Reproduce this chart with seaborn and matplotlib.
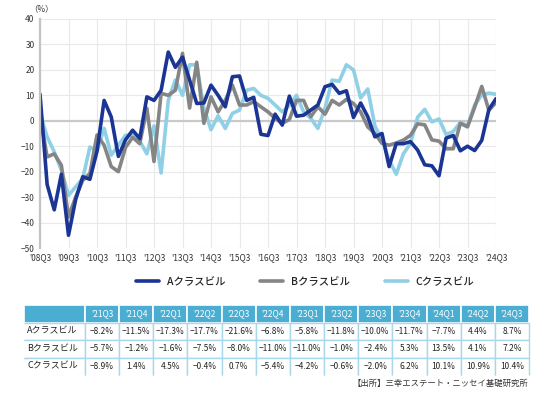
import numpy as np
import pandas as pd
import matplotlib
matplotlib.use("Agg")
import matplotlib.pyplot as plt
import seaborn as sns

# quarterly vacancy-adjusted rent change (%), '08Q3 .. '24Q3
a_class = [10.5, -25, -35, -21, -45, -31, -22, -23, -12, 8, 1.5, -14, -7.5, -3.7, -7, 9.4,
           8, 12, 27, 21, 25, 16, 6.8, 7, 14, 10, 5.5, 17.3, 17.6, 8, 9.2, -5.3,
           -5.8, 2.6, -1.7, 9.7, 1.8, 2.2, 4.2, 6.2, 13.4, 14.3, 10.8, 11.8, 1.3, 7, 1.6, -6.3,
           -5, -18, -9, -9,
           -8.2, -11.5, -17.3, -17.7, -21.6, -6.8, -5.8, -11.8, -10.0, -11.7, -7.7, 4.4, 8.7]
b_class = [2, -14.2, -13, -17.5, -37.8, -30, -23.4, -20.7, -5.6, -9.6, -18, -20, -10.5, -6.5, -9, 4.9,
           -16, 10.8, 10, 12, 26.5, 5, 23, -1, 9.4, 3.5, 8, 14, 6.2, 6.2, 7.5, 5.5,
           3.5, 1, -1, 0.5, 8, 8, 1.6, 5.5, 2.6, 8, 6.2, 8.4, 6.8, 3.5, -2.4, -5,
           -8.9, -9.6, -8.7, -7.6,
           -5.7, -1.2, -1.6, -7.5, -8.0, -11.0, -11.0, -1.0, -2.4, 5.3, 13.5, 4.1, 7.2]
c_class = [3, -6.3, -12.2, -19.4, -29.3, -26, -22.7, -10.3, -12, -3, -13.5, -9.6, -5.7, -5.7, -8, -13,
           -2, -20.5, 8, 16, 10, 22, 22, 5, -3.5, 2, -3, 2.9, 4.2, 12, 12.7, 10,
           8.8, 6.2, 3.5, 6, 10, 3.5, 1, -3, 5, 16, 15.5, 22, 20, 9, 12.5, -2,
           -7.5, -15.5, -21, -13,
           -8.9, 1.4, 4.5, -0.4, 0.7, -5.4, -4.2, -0.6, -2.0, 6.2, 10.1, 10.9, 10.4]

year_labels = ["'08Q3", "'09Q3", "'10Q3", "'11Q3", "'12Q3", "'13Q3", "'14Q3", "'15Q3", "'16Q3",
               "'17Q3", "'18Q3", "'19Q3", "'20Q3", "'21Q3", "'22Q3", "'23Q3", "'24Q3"]
table_quarters = ["'21Q3", "'21Q4", "'22Q1", "'22Q2", "'22Q3", "'22Q4", "'23Q1",
                  "'23Q2", "'23Q3", "'23Q4", "'24Q1", "'24Q2", "'24Q3"]
series_names = ["Aクラスビル", "Bクラスビル", "Cクラスビル"]
colors = ["#1a3594", "#858585", "#8fd0e6"]

sns.set_theme(style="white")
plt.rcParams["font.family"] = ["Noto Sans CJK JP", "DejaVu Sans"]
plt.rcParams["axes.unicode_minus"] = True

df = pd.DataFrame({"q": np.arange(len(a_class)),
                   series_names[0]: a_class,
                   series_names[1]: b_class,
                   series_names[2]: c_class})

fig = plt.figure(figsize=(5.36, 3.93), dpi=100)
ax = fig.add_axes([40 / 536, 1 - 248 / 393, 456 / 536, 229 / 393])

# draw light ones first so the A line sits on top
for name, color in reversed(list(zip(series_names, colors))):
    sns.lineplot(data=df, x="q", y=name, color=color, lw=2.6, ax=ax, label=name)

ax.set_xlim(0, 64)
ax.set_ylim(-50, 40)
ax.set_xticks(range(0, 65, 4))
ax.set_xticklabels(year_labels)
ax.set_yticks(range(-50, 41, 10))
ax.set_xlabel("")
ax.set_ylabel("")
ax.grid(True, color="#e9e9e9", lw=0.8)
ax.axhline(0, color="#c9c9c9", lw=1.6, zorder=1.5)
for side in ["top", "right", "bottom"]:
    ax.spines[side].set_visible(False)
ax.spines["left"].set_color("#c4c4c4")
ax.spines["left"].set_linewidth(1.6)
ax.tick_params(length=0, labelsize=6, colors="#333333", pad=4)

fig.text(29 / 536, 1 - 9 / 393, "（%）", fontsize=6, color="#333333", va="center")

handles, labels = ax.get_legend_handles_labels()
ax.get_legend().remove()
fig.legend(handles[::-1], labels[::-1], loc="center", bbox_to_anchor=(305 / 536, 1 - 282 / 393),
           ncol=3, frameon=False, handlelength=2.2, handletextpad=0.7,
           columnspacing=3.4, prop={"size": 7.5, "weight": "medium"})

# table of the last 13 quarters
def fmt(v):
    return f"{v:.1f}%".replace("-", "−")

cell_text = [[name] + [fmt(v) for v in s[-13:]]
             for name, s in zip(series_names, [a_class, b_class, c_class])]
tax = fig.add_axes([24 / 536, 18 / 393, 505 / 536, 70 / 393])
tax.axis("off")
first_w = 61 / 505
col_w = [first_w] + [(1 - first_w) / 13] * 13
tbl = tax.table(cellText=cell_text, colLabels=[""] + table_quarters, colWidths=col_w,
                cellLoc="center", bbox=[0, 0, 1, 1])
tbl.auto_set_font_size(False)
tbl.set_fontsize(6)
n_rows = len(cell_text)
for (r, c), cell in tbl.get_celld().items():
    if r == 0:
        cell.set_facecolor("#4aaed3")
        cell.set_edgecolor("white")
        cell.set_linewidth(1.2)
        cell.get_text().set_color("white")
    else:
        cell.set_facecolor("white")
        cell.set_edgecolor("#a8d8ea")
        cell.set_linewidth(1.0)
        cell.get_text().set_color("#222222")
        edges = "TR" if c == 0 else "TLR"
        if r < n_rows:
            edges += "B"
        cell.visible_edges = edges
        if c == 0:
            cell.PAD = 0.05
            cell.get_text().set_ha("left")
            cell.get_text().set_fontsize(6.5)

fig.text(528 / 536, 1 - 383 / 393, "【出所】三幸エステート・ニッセイ基礎研究所",
         ha="right", va="center", fontsize=6, color="#333333")

fig.savefig("out.png", dpi=100)
